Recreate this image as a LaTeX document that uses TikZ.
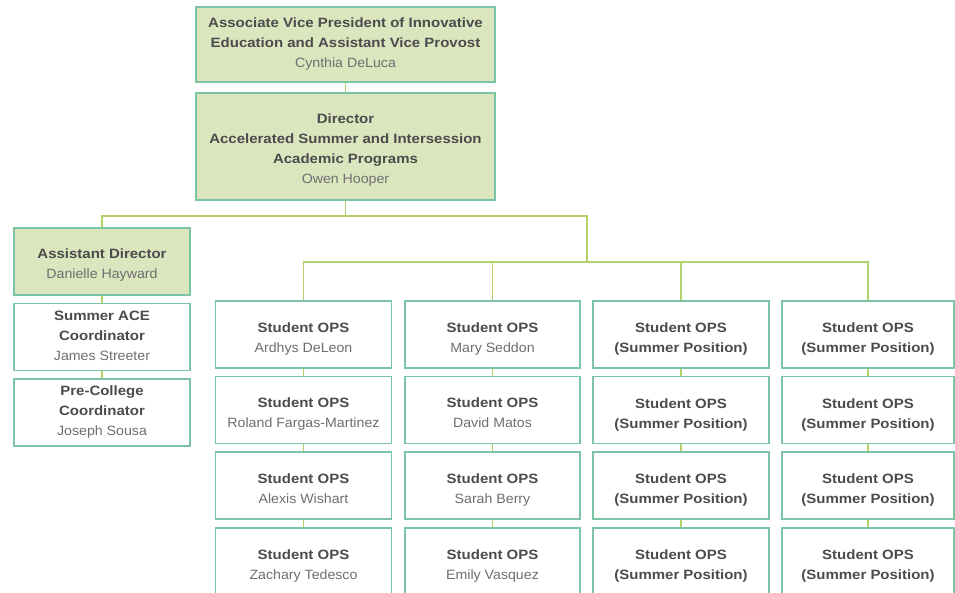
\documentclass[tikz,border=0pt]{standalone}
\usepackage{fontspec}
\setmainfont{Liberation Sans}[UprightFeatures={FakeStretch=1.05},BoldFeatures={FakeStretch=1.11}]
\usetikzlibrary{positioning}
\definecolor{boxline}{HTML}{7BC4A6}
\definecolor{headfill}{HTML}{DCE6BE}
\definecolor{linkgreen}{HTML}{B3D36A}
\definecolor{titlegray}{HTML}{4B4B4D}
\definecolor{namegray}{HTML}{6E6E70}
\tikzset{
	orgbox/.style={draw=boxline,line width=1.6pt,align=center,inner sep=2pt,
		text=titlegray,font=\fontsize{13.5}{20}\selectfont\bfseries},
	headbox/.style={orgbox,fill=headfill},
	staffbox/.style={orgbox,fill=white,minimum height=67pt},
	link/.style={draw=linkgreen,line width=1.6pt},
}
\newcommand{\who}[1]{{\mdseries\color{namegray}#1\rule[-3.5pt]{0pt}{3.5pt}}}
\newcommand{\lowered}[1]{\rule{0pt}{#1}}
\begin{document}
\begin{tikzpicture}[x=1pt,y=-1pt]
		\useasboundingbox (0,0) rectangle (955,592);
		% top of the chart
		\node[headbox,minimum width=299pt,minimum height=75pt] (avp) at (345.5,44.5)
			{Associate Vice President of Innovative\\Education and Assistant Vice Provost\\\who{Cynthia DeLuca}};
		\node[headbox,minimum width=299pt,minimum height=107pt] (dir) at (345.5,146.5)
			{\lowered{17pt}Director\\Accelerated Summer and Intersession\\Academic Programs\\\who{Owen Hooper}};
		\draw[link] (avp.south) -- (dir.north);
		% left branch
		\node[headbox,minimum width=176pt,minimum height=67pt] (ad) at (102,261.5)
			{\lowered{17pt}Assistant Director\\\who{Danielle Hayward}};
		\node[staffbox,minimum width=176pt,below=7pt of ad] (ace)
			{Summer ACE\\Coordinator\\\who{James Streeter}};
		\node[staffbox,minimum width=176pt,below=7pt of ace] (pcc)
			{Pre-College\\Coordinator\\\who{Joseph Sousa}};
		\draw[link] (ad.south) -- (ace.north);
		\draw[link] (ace.south) -- (pcc.north);
		% student ops columns
		\foreach \col/\xc/\bw/\na/\nb/\nc/\nd in {
				1/303.5/176/{\who{Ardhys DeLeon}}/{\who{Roland Fargas-Martinez}}/{\who{Alexis Wishart}}/{\who{Zachary Tedesco}},
				2/492.5/175/{\who{Mary Seddon}}/{\who{David Matos}}/{\who{Sarah Berry}}/{\who{Emily Vasquez}},
				3/681/176/(Summer Position)/(Summer Position)/(Summer Position)/(Summer Position),
				4/868/172/(Summer Position)/(Summer Position)/(Summer Position)/(Summer Position)}{
			\node[staffbox,minimum width=\bw pt] (s\col-1) at (\xc,334.5) {\lowered{19pt}Student OPS\\\na};
			\node[staffbox,minimum width=\bw pt,below=7pt of s\col-1] (s\col-2) {\lowered{19pt}Student OPS\\\nb};
			\node[staffbox,minimum width=\bw pt,below=7pt of s\col-2] (s\col-3) {\lowered{19pt}Student OPS\\\nc};
			\node[staffbox,minimum width=\bw pt,below=7pt of s\col-3] (s\col-4) {\lowered{19pt}Student OPS\\\nd};
			\draw[link] (s\col-1.south) -- (s\col-2.north);
			\draw[link] (s\col-2.south) -- (s\col-3.north);
			\draw[link] (s\col-3.south) -- (s\col-4.north);
		}
		% branch lines
		\draw[link] (dir.south) -- ++(0,15) coordinate (hub);
		\coordinate (stem) at (587,262);
		\draw[link] (hub) -| (ad.north);
		\draw[link] (hub) -| (stem);
		\draw[link] (s1-1.north) |- (stem) -| (s4-1.north);
		\draw[link] (stem) -| (s2-1.north);
		\draw[link] (stem) -| (s3-1.north);
	\end{tikzpicture}
\end{document}
